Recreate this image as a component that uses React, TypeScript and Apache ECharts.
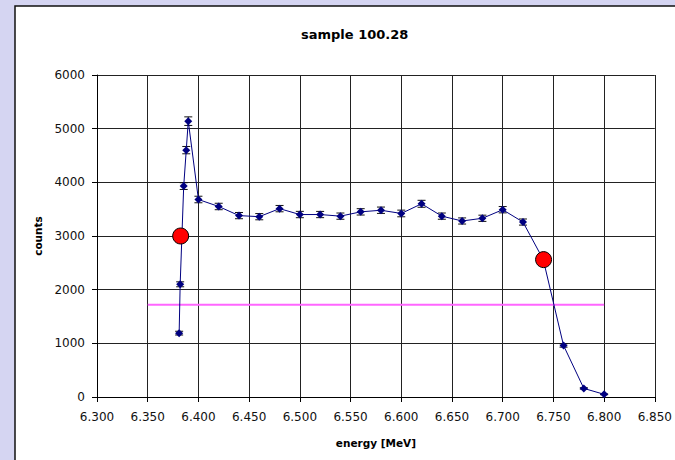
import React, { useEffect, useRef } from "react";
import * as echarts from "echarts";

const energies = [6.381, 6.382, 6.3855, 6.388, 6.39, 6.4, 6.42, 6.44, 6.46, 6.48, 6.5, 6.52, 6.54, 6.56, 6.58, 6.6, 6.62, 6.64, 6.66, 6.68, 6.7, 6.72, 6.74, 6.76, 6.78, 6.8];
const counts = [1190, 2100, 3930, 4600, 5140, 3680, 3550, 3380, 3360, 3510, 3400, 3400, 3370, 3450, 3480, 3420, 3600, 3370, 3280, 3330, 3490, 3260, 2560, 960, 160, 50];
const errors = [35, 46, 63, 68, 80, 61, 60, 58, 58, 59, 59, 58, 58, 59, 59, 62, 65, 58, 57, 58, 59, 57, 51, 31, 13, 7];
const redEnergies = [6.3825, 6.7403];
const redCounts = [3000, 2560];
const halfLineEnergies = [6.35, 6.8];
const halfLineCounts = [1720, 1720];
const xTicks = { min: 6.3, max: 6.85, step: 0.05 };
const yTicks = { min: 0, max: 6000, step: 1000 };
const titleText = "sample 100.28";
const xName = "energy [MeV]";
const yName = "counts";

export default function App() {
  const ref = useRef<HTMLDivElement>(null);
  useEffect(() => {
    const chart = echarts.init(ref.current!, null, { renderer: "svg" });
    const font = "DejaVu Sans";
    const mainData = energies.map((e, i) => [e, counts[i]]);
    const errData = energies.map((e, i) => [e, counts[i] - errors[i], counts[i] + errors[i]]);
    chart.setOption({
      animation: false,
      backgroundColor: "#d5d5f2",
      graphic: [
        {
          type: "rect",
          z: -100,
          shape: { x: 15, y: 6, width: 700, height: 500 },
          style: { fill: "#ffffff", stroke: "#111", lineWidth: 1.5 },
        },
      ],
      title: {
        text: titleText,
        left: 296,
        top: 23,
        textStyle: { fontFamily: font, fontWeight: "bold", fontSize: 13, color: "#000" },
      },
      grid: { left: 97, right: 20, top: 75, bottom: 63, containLabel: false },
      xAxis: {
        type: "value",
        min: xTicks.min,
        max: xTicks.max,
        interval: xTicks.step,
        name: xName,
        nameLocation: "middle",
        nameGap: 40,
        nameTextStyle: { fontFamily: font, fontWeight: "bold", fontSize: 10.5, color: "#000" },
        axisLine: { onZero: false, lineStyle: { color: "#000", width: 1 } },
        axisTick: { show: true, length: 5, inside: false, lineStyle: { color: "#000" } },
        axisLabel: {
          margin: 14,
          fontFamily: font,
          fontSize: 12,
          color: "#111",
          formatter: (v: number) => v.toFixed(3),
          showMinLabel: true,
          showMaxLabel: true,
        },
        splitLine: { show: true, lineStyle: { color: "#222", width: 1 } },
      },
      yAxis: {
        type: "value",
        min: yTicks.min,
        max: yTicks.max,
        interval: yTicks.step,
        name: yName,
        nameLocation: "middle",
        nameGap: 46,
        nameTextStyle: { fontFamily: font, fontWeight: "bold", fontSize: 10.5, color: "#000" },
        axisLine: { show: true, lineStyle: { color: "#000", width: 1 } },
        axisTick: { show: true, length: 5, inside: false, lineStyle: { color: "#000" } },
        axisLabel: {
          margin: 12,
          fontFamily: font,
          fontSize: 12,
          color: "#111",
          formatter: (v: number) => String(Math.round(v)),
        },
        splitLine: { show: true, lineStyle: { color: "#222", width: 1 } },
      },
      series: [
        {
          type: "line",
          data: halfLineEnergies.map((e, i) => [e, halfLineCounts[i]]),
          showSymbol: false,
          symbol: "none",
          lineStyle: { color: "#ff66ff", width: 2 },
          z: 2,
        },
        {
          type: "custom",
          data: errData,
          z: 3,
          renderItem: (params: any, api: any) => {
            const x = api.value(0);
            const lo = api.coord([x, api.value(1)]);
            const hi = api.coord([x, api.value(2)]);
            const hw = 4;
            const style = { stroke: "#111", lineWidth: 1 };
            return {
              type: "group",
              children: [
                { type: "line", shape: { x1: lo[0], y1: lo[1], x2: hi[0], y2: hi[1] }, style },
                { type: "line", shape: { x1: lo[0] - hw, y1: lo[1], x2: lo[0] + hw, y2: lo[1] }, style },
                { type: "line", shape: { x1: hi[0] - hw, y1: hi[1], x2: hi[0] + hw, y2: hi[1] }, style },
              ],
            };
          },
        },
        {
          type: "line",
          data: mainData,
          symbol: "diamond",
          symbolSize: 8,
          showAllSymbol: true,
          itemStyle: { color: "#000080" },
          lineStyle: { color: "#000080", width: 1 },
          z: 4,
        },
        {
          type: "scatter",
          data: redEnergies.map((e, i) => [e, redCounts[i]]),
          symbol: "circle",
          symbolSize: 16,
          itemStyle: { color: "#ff0000", borderColor: "#000", borderWidth: 1, opacity: 1 },
          z: 5,
        },
      ],
    });
    return () => chart.dispose();
  }, []);
  return (
    <div
      ref={ref}
      style={{ position: "absolute", left: 0, top: 0, width: 675, height: 460 }}
    />
  );
}
